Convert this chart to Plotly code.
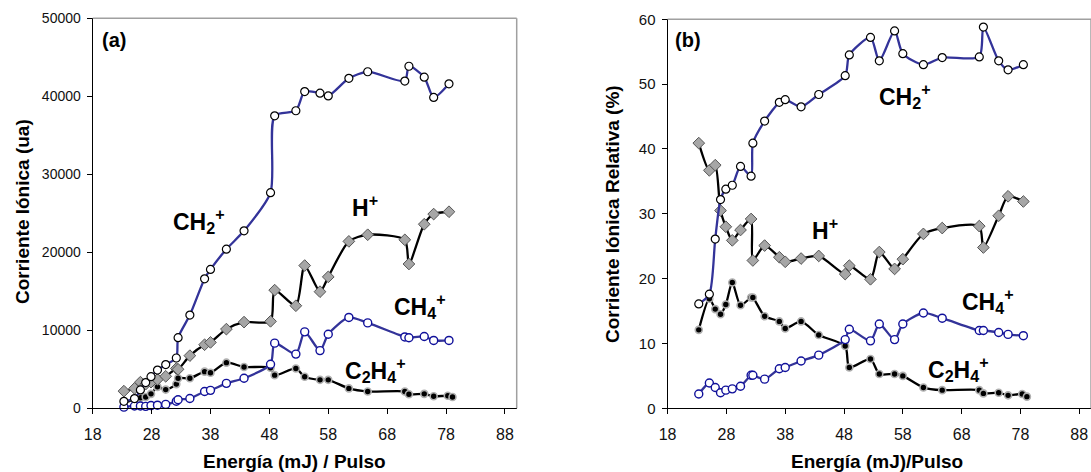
import plotly.graph_objects as go

# Energía (mJ) por pulso, común a todas las series
energia = [23.3, 25.1, 26.1, 27.0, 27.9, 29.0, 30.4, 32.2, 32.5, 34.5, 37.0, 38.0,
           40.7, 43.7, 48.2, 48.9, 52.5, 54.0, 56.6, 58.0, 61.5, 64.7, 71.0, 71.7,
           74.3, 75.9, 78.5]
energia_c2h4 = energia[:-1] + [78.3, 79.1]

# (a) corriente iónica (ua)
ch2_a = [900, 1250, 2350, 3300, 4050, 4900, 5600, 6450, 9050, 11950, 16600, 17800,
         20400, 22750, 27650, 37500, 38150, 40600, 40400, 40050, 42300, 43150, 41950,
         43850, 42450, 39850, 41600]
h_a = [2200, 2550, 3350, 3100, 3350, 3700, 4100, 5100, 5000, 6750, 8150, 8450,
       10150, 11050, 11150, 15150, 13150, 18300, 14950, 16850, 21400, 22250, 21600,
       18500, 23600, 24900, 25200]
ch4_a = [150, 300, 300, 250, 350, 400, 500, 900, 1100, 1250, 2150, 2300,
         3200, 3850, 5650, 8350, 6950, 9800, 7400, 9500, 11650, 10950, 9150,
         9050, 9200, 8700, 8700]
c2h4_a = [700, 1150, 1350, 1450, 1850, 2750, 2400, 3100, 3850, 3850, 4700, 4550,
          5850, 5300, 5200, 4250, 5100, 4050, 3650, 3650, 2550, 2150, 2150,
          1800, 1850, 1550, 1600, 1450]

# (b) corriente iónica relativa (%)
ch2_b = [16.1, 17.6, 26.1, 32.2, 33.8, 34.4, 37.3, 35.8, 40.9, 44.3, 47.2, 47.6,
         46.5, 48.4, 51.3, 54.5, 57.2, 53.6, 58.2, 54.7, 53.0, 54.1, 54.2, 58.8,
         53.6, 52.2, 53.0]
h_b = [40.9, 36.7, 37.5, 30.5, 28.0, 25.9, 27.5, 29.2, 22.8, 25.1, 23.3, 22.6,
       23.1, 23.5, 20.7, 22.0, 19.9, 24.1, 21.5, 23.0, 26.9, 27.8, 28.1, 24.8,
       29.7, 32.7, 31.9]
ch4_b = [2.2, 3.9, 3.2, 2.4, 2.8, 3.0, 3.4, 5.1, 5.1, 4.5, 6.1, 6.3,
         7.3, 8.2, 10.6, 12.2, 10.4, 13.0, 10.6, 13.0, 14.7, 13.9, 12.0, 12.0,
         11.7, 11.4, 11.2]
c2h4_b = [12.1, 16.9, 15.3, 14.5, 16.0, 19.4, 15.9, 17.1, 17.1, 14.2, 13.4, 12.3,
          13.4, 11.3, 9.6, 6.3, 7.6, 5.3, 5.3, 5.0, 3.2, 2.8, 2.8, 2.3,
          2.4, 2.0, 2.2, 1.8]

x_ticks = [18, 28, 38, 48, 58, 68, 78, 88]

BLUE = "#333399"
FONT = "Liberation Sans, Arial, sans-serif"
W, H = 1091, 472


def px(x, y):
    # page pixel -> paper fraction
    return x / W, 1 - y / H


fig = go.Figure()


def add_series(x, y, xa, ya, line_color, marker):
    fig.add_trace(go.Scatter(
        x=x, y=y, xaxis=xa, yaxis=ya, mode="lines+markers",
        line=dict(color=line_color, width=2.3, shape="spline", smoothing=0.7),
        marker=marker, showlegend=False, cliponaxis=False))


white_black = dict(symbol="circle", size=8, color="white", line=dict(color="black", width=1.2))
white_blue = dict(symbol="circle", size=8, color="white", line=dict(color="#10109a", width=1.4))
gray_diamond = dict(symbol="diamond", size=9, color="#a6a6a6", line=dict(color="#555555", width=1))
black_dot = dict(symbol="circle", size=7, color="black", line=dict(color="#b0b0b0", width=1.6))

for xa, ya, ch2, h, ch4, c2h4 in [("x", "y", ch2_a, h_a, ch4_a, c2h4_a),
                                  ("x2", "y2", ch2_b, h_b, ch4_b, c2h4_b)]:
    add_series(energia_c2h4, c2h4, xa, ya, "black", black_dot)
    add_series(energia, ch4, xa, ya, BLUE, white_blue)
    add_series(energia, h, xa, ya, "black", gray_diamond)
    add_series(energia, ch2, xa, ya, BLUE, white_black)

xaxis_common = dict(range=[18, 90], tickvals=x_ticks, showgrid=False, zeroline=False,
                    showline=True, linecolor="black", linewidth=1.2, ticks="outside",
                    ticklen=5, tickcolor="black", ticklabeloverflow="allow",
                    ticklabelstandoff=6,
                    tickfont=dict(family=FONT, size=16, color="#111"))
yaxis_common = dict(showgrid=False, zeroline=False, showline=True, linecolor="black",
                    linewidth=1.2, ticks="outside", ticklen=5, tickcolor="black",
                    tickformat="d", ticklabelstandoff=3)

fig.update_layout(
    width=W, height=H, margin=dict(l=0, r=0, t=0, b=0),
    paper_bgcolor="white", plot_bgcolor="white", template="none",
    xaxis=dict(domain=[92.7 / W, 516.7 / W], anchor="y", **xaxis_common),
    yaxis=dict(domain=[1 - 408.3 / H, 1 - 18.3 / H], anchor="x", range=[0, 50000],
               tickvals=[0, 10000, 20000, 30000, 40000, 50000],
               tickfont=dict(family=FONT, size=14, color="#111"), **yaxis_common),
    xaxis2=dict(domain=[667.6 / W, 1.0], anchor="y2", **xaxis_common),
    yaxis2=dict(domain=[1 - 408.3 / H, 1 - 19.3 / H], anchor="x2", range=[0, 60],
                tickvals=[0, 10, 20, 30, 40, 50, 60],
                tickfont=dict(family=FONT, size=15, color="#111"), **yaxis_common),
)

# gray top/right frame lines
for xr, yr in [("x domain", "y domain"), ("x2 domain", "y2 domain")]:
    fig.add_shape(type="line", xref=xr, yref=yr, x0=0, x1=1, y0=1, y1=1,
                  line=dict(color="#a0a0a0", width=1.5))
    fig.add_shape(type="line", xref=xr, yref=yr, x0=1, x1=1, y0=0, y1=1,
                  line=dict(color="#a0a0a0", width=1.5))

lab = dict(showarrow=False, xanchor="center", yanchor="middle",
           font=dict(family=FONT, size=23, color="black"))
labels = [
    ("x", "y", 36.1, 24000, "<b>CH<sub>2</sub><sup>+</sup></b>"),
    ("x", "y", 64.3, 26000, "<b>H<sup>+</sup></b>"),
    ("x", "y", 73.5, 13150, "<b>CH<sub>4</sub><sup>+</sup></b>"),
    ("x", "y", 66.0, 4900, "<b>C<sub>2</sub>H<sub>4</sub><sup>+</sup></b>"),
    ("x2", "y2", 58.4, 48.1, "<b>CH<sub>2</sub><sup>+</sup></b>"),
    ("x2", "y2", 44.8, 27.7, "<b>H<sup>+</sup></b>"),
    ("x2", "y2", 72.4, 16.6, "<b>CH<sub>4</sub><sup>+</sup></b>"),
    ("x2", "y2", 67.5, 6.1, "<b>C<sub>2</sub>H<sub>4</sub><sup>+</sup></b>"),
]
for xr, yr, x, y, t in labels:
    fig.add_annotation(xref=xr, yref=yr, x=x, y=y, text=t, **lab)


def paper_text(x, y, text, size, angle=0):
    fx, fy = px(x, y)
    fig.add_annotation(xref="paper", yref="paper", x=fx, y=fy, text=text,
                       showarrow=False, xanchor="center", yanchor="middle",
                       textangle=angle, font=dict(family=FONT, size=size, color="black"))


paper_text(114, 40, "<b>(a)</b>", 20)
paper_text(688, 40, "<b>(b)</b>", 20)
paper_text(294, 461, "<b>Energía (mJ) / Pulso</b>", 19)
paper_text(877, 461, "<b>Energía (mJ)/Pulso</b>", 19)
paper_text(22, 212, "<b>Corriente Iónica (ua)</b>", 19, -90)
paper_text(612, 214, "<b>Corriente Iónica Relativa (%)</b>", 19, -90)

# the page body has a default 8px margin; drop it so the figure fills the window
fig.write_html("out.html", config={"displayModeBar": False},
               post_script="document.body.style.margin='0';")
